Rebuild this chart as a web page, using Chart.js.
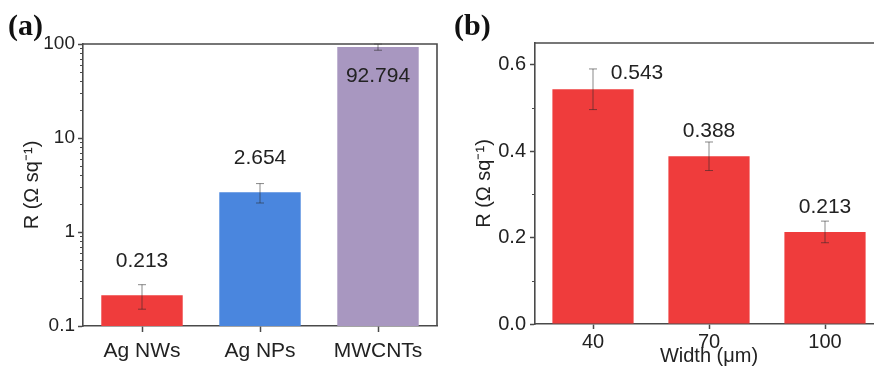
<!DOCTYPE html>
<html>
<head>
<meta charset="utf-8">
<script src="https://cdn.jsdelivr.net/npm/chart.js@4.4.0/dist/chart.umd.min.js"></script>
<style>
  html, body { margin: 0; padding: 0; background: #fff; overflow: hidden; }
  body { width: 874px; height: 374px; position: relative; }
  .panel { position: absolute; font: bold 30px "Liberation Serif", "Times New Roman", serif; color: #111; line-height: 1; }
  #chartA { position: absolute; left: 0; top: 0; }
  #chartB { position: absolute; left: 440px; top: 0; }
</style>
</head>
<body>
<canvas id="chartA" width="440" height="374"></canvas>
<canvas id="chartB" width="460" height="374"></canvas>
<div class="panel" style="left:8px;top:10px">(a)</div>
<div class="panel" style="left:454px;top:10px">(b)</div>
<script>
// panel (a): sheet resistance by material
const materials = ['Ag NWs', 'Ag NPs', 'MWCNTs'];
const materialR = [0.213, 2.654, 92.794];
const materialErr = [0.062, 0.62, 7];
const materialColors = ['#ef3c3c', '#4a86de', '#a897c0'];
const logTicks = [0.1, 1, 10, 100];

// panel (b): sheet resistance by line width
const widths = ['40', '70', '100'];
const widthR = [0.543, 0.388, 0.213];
const widthErr = [0.047, 0.033, 0.025];
const linTicks = [0, 0.2, 0.4, 0.6];

const axisColor = '#4a4a4a';
const textColor = '#222';
Chart.defaults.font.family = '"Liberation Sans", Arial, sans-serif';
Chart.defaults.color = textColor;

// frame, minor ticks, error bars and value labels
const makeDecor = (o) => ({
    id: 'decor',
    afterDatasetsDraw(chart) {
        const ctx = chart.ctx;
        const y = chart.scales.y;
        const meta = chart.getDatasetMeta(0);
        const vals = chart.data.datasets[0].data;
        ctx.save();
        ctx.strokeStyle = 'rgba(40,40,40,0.55)';
        ctx.lineWidth = 1;
        meta.data.forEach((bar, i) => {
            const hi = y.getPixelForValue(vals[i] + o.errors[i]);
            const lo = y.getPixelForValue(vals[i] - o.errors[i]);
            ctx.beginPath();
            ctx.moveTo(bar.x, hi); ctx.lineTo(bar.x, lo);
            ctx.moveTo(bar.x - 4, hi); ctx.lineTo(bar.x + 4, hi);
            ctx.moveTo(bar.x - 4, lo); ctx.lineTo(bar.x + 4, lo);
            ctx.stroke();
        });
        ctx.fillStyle = textColor;
        ctx.font = '21px "Liberation Sans", Arial, sans-serif';
        ctx.textAlign = 'center';
        ctx.textBaseline = 'middle';
        meta.data.forEach((bar, i) => {
            const p = o.labelPlace(bar, i);
            ctx.fillText(vals[i].toFixed(3), p.x, p.y);
        });
        ctx.restore();
    },
    afterDraw(chart) {
        const ctx = chart.ctx;
        const {left, right, top, bottom} = chart.chartArea;
        const y = chart.scales.y;
        ctx.save();
        ctx.strokeStyle = axisColor;
        ctx.lineWidth = 1.6;
        ctx.beginPath();
        ctx.moveTo(left, top); ctx.lineTo(right, top);
        if (o.rightEdge) ctx.lineTo(right, bottom);
        ctx.stroke();
        ctx.lineWidth = 1.2;
        ctx.beginPath();
        o.minor.forEach(v => {
            const py = Math.round(y.getPixelForValue(v)) + 0.5;
            ctx.moveTo(left - 3, py); ctx.lineTo(left, py);
        });
        ctx.stroke();
        ctx.restore();
    }
});

const baseGrid = { drawOnChartArea: false, tickLength: 5, tickColor: axisColor, tickWidth: 1.5 };
const baseBorder = { color: axisColor, width: 1.6 };

new Chart(document.getElementById('chartA'), {
    type: 'bar',
    data: {
        labels: materials,
        datasets: [{
            data: materialR,
            backgroundColor: materialColors,
            categoryPercentage: 1,
            barPercentage: 0.69,
        }]
    },
    options: {
        responsive: false,
        animation: false,
        layout: { padding: { top: 44, right: 3, left: 0, bottom: 0 } },
        plugins: { legend: { display: false }, tooltip: { enabled: false } },
        scales: {
            x: {
                afterFit: s => { s.height = 48; },
                grid: { ...baseGrid, offset: false, tickLength: 6 },
                border: baseBorder,
                ticks: { font: { size: 21 }, color: textColor, padding: 7 }
            },
            y: {
                type: 'logarithmic',
                min: 0.1,
                max: 100,
                afterBuildTicks: s => { s.ticks = logTicks.map(v => ({ value: v })); },
                afterFit: s => { s.width = 83; },
                grid: baseGrid,
                border: baseBorder,
                ticks: { autoSkip: false, callback: v => String(v), font: { size: 19 }, color: textColor, padding: 3 },
                title: { display: true, text: 'R (Ω sq⁻¹)', font: { size: 20 }, color: textColor, padding: { top: 20 } }
            }
        }
    },
    plugins: [makeDecor({
        errors: materialErr,
        minor: [0.1, 1, 10].flatMap(d => [2, 3, 4, 5, 6, 7, 8, 9].map(k => k * d)),
        rightEdge: true,
        labelPlace: (bar, i) => i === 2 ? { x: bar.x, y: bar.y + 29 } : { x: bar.x, y: bar.y - 34 }
    })]
});

new Chart(document.getElementById('chartB'), {
    type: 'bar',
    data: {
        labels: widths,
        datasets: [{
            data: widthR,
            backgroundColor: '#ef3c3c',
            categoryPercentage: 1,
            barPercentage: 0.7,
        }]
    },
    options: {
        responsive: false,
        animation: false,
        layout: { padding: { top: 43, right: 17, left: 0, bottom: 0 } },
        plugins: { legend: { display: false }, tooltip: { enabled: false } },
        scales: {
            x: {
                afterFit: s => { s.height = 50; },
                grid: { ...baseGrid, offset: false },
                border: baseBorder,
                ticks: { font: { size: 20 }, color: textColor, padding: 1 },
                title: { display: true, text: 'Width (μm)', font: { size: 20 }, color: textColor, padding: { bottom: 6 } }
            },
            y: {
                min: 0,
                max: 0.65,
                afterBuildTicks: s => { s.ticks = linTicks.map(v => ({ value: v })); },
                afterFit: s => { s.width = 95; },
                grid: baseGrid,
                border: baseBorder,
                ticks: { autoSkip: false, callback: v => v.toFixed(1), font: { size: 20 }, color: textColor, padding: 4 },
                title: { display: true, text: 'R (Ω sq⁻¹)', font: { size: 20 }, color: textColor, padding: { top: 32 } }
            }
        }
    },
    plugins: [makeDecor({
        errors: widthErr,
        minor: [0.1, 0.3, 0.5],
        rightEdge: false,
        labelPlace: (bar, i) => i === 0 ? { x: bar.x + 44, y: bar.y - 16 } : { x: bar.x, y: bar.y - 25 }
    })]
});
</script>
</body>
</html>
